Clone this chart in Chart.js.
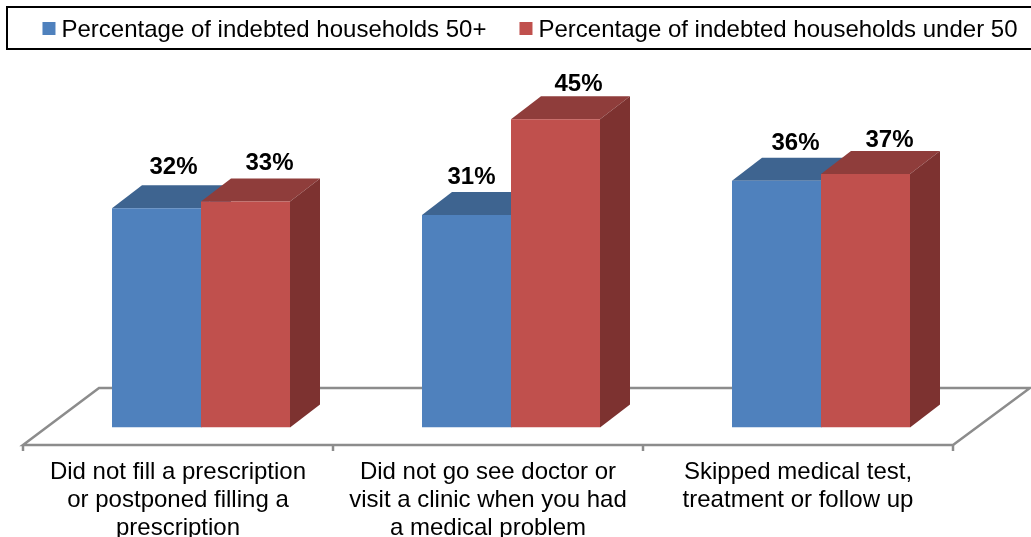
<!DOCTYPE html>
<html lang="en">
<head>
    <meta charset="UTF-8">
    <title>Indebted households</title>
    <script src="https://cdn.jsdelivr.net/npm/chart.js@4"></script>
    <style>
        body { margin: 0; background: #fff; overflow: hidden; }
        #wrap { position: relative; width: 1031px; height: 537px; }
    </style>
</head>
<body>
    <div id="wrap"><canvas id="chart"></canvas></div>

    <script>
        const categories = [
            ['Did not fill a prescription', 'or postponed filling a', 'prescription'],
            ['Did not go see doctor or', 'visit a clinic when you had', 'a medical problem'],
            ['Skipped medical test,', 'treatment or follow up']
        ];
        const over50 = [32, 31, 36];
        const under50 = [33, 45, 37];
        const seriesNames = ['Percentage of indebted households 50+', 'Percentage of indebted households under 50'];

        // pixel shifts of the data labels, they were placed by hand in the original
        const labelShift = [
            [[17, -41], [5, -38], [19, -37]],
            [[24, -38], [23, -35], [24, -34]]
        ];
        const faceColors = ['#4F81BD', '#C0504D'];
        const topColors = ['#3E6490', '#8F3D3B'];
        const sideColors = ['#386088', '#7D3230'];
        const depthX = 30;
        const depthY = 23;

        function face(ctx, color, points) {
            ctx.fillStyle = color;
            ctx.beginPath();
            points.forEach(p => ctx.lineTo(p[0], p[1]));
            ctx.closePath();
            ctx.fill();
        }

        const bars3d = {
            id: 'bars3d',
            afterLayout(chart) {
                // legend text sits higher and further right than the library centres it
                chart.legend.left += 25;
                chart.legend.right += 25;
                chart.legend.top -= 61;
            },
            beforeDatasetsDraw(chart) {
                const ctx = chart.ctx;
                const xs = chart.scales.x;
                const ys = chart.scales.y;
                ctx.save();

                // floor
                const front = ys.bottom + 17.5;
                const back = ys.bottom - 39.5;
                const left = xs.left - 23;
                const right = xs.right - 23;
                ctx.strokeStyle = '#8C8C8C';
                ctx.lineWidth = 2.5;
                ctx.beginPath();
                ctx.moveTo(left, front);
                ctx.lineTo(right, front);
                ctx.lineTo(right + 77, back);
                ctx.lineTo(left + 76, back);
                ctx.closePath();
                ctx.stroke();
                for (let i = 0; i <= categories.length; i++) {
                    const tx = left + (right - left) * i / categories.length;
                    ctx.beginPath();
                    ctx.moveTo(tx, front);
                    ctx.lineTo(tx, front + 6);
                    ctx.stroke();
                }

                // tops and sides behind the front faces
                chart.data.datasets.forEach((ds, d) => {
                    chart.getDatasetMeta(d).data.forEach(bar => {
                        const l = bar.x - bar.width / 2;
                        const r = bar.x + bar.width / 2;
                        face(ctx, topColors[d], [[l, bar.y], [l + depthX, bar.y - depthY], [r + depthX, bar.y - depthY], [r, bar.y]]);
                        face(ctx, sideColors[d], [[r, bar.y], [r + depthX, bar.y - depthY], [r + depthX, bar.base - depthY], [r, bar.base]]);
                    });
                });
                ctx.restore();
            },
            afterDatasetsDraw(chart) {
                const ctx = chart.ctx;
                ctx.save();
                ctx.fillStyle = '#000';
                ctx.font = 'bold 24px "Liberation Sans"';
                ctx.textAlign = 'center';
                ctx.textBaseline = 'middle';
                chart.data.datasets.forEach((ds, d) => {
                    chart.getDatasetMeta(d).data.forEach((bar, i) => {
                        ctx.fillText(ds.data[i] + '%', bar.x + labelShift[d][i][0], bar.y + labelShift[d][i][1]);
                    });
                });
                ctx.restore();
            },
            afterDraw(chart) {
                const ctx = chart.ctx;
                ctx.save();
                // legend frame and the square keys
                ctx.strokeStyle = '#000';
                ctx.lineWidth = 2;
                ctx.strokeRect(7, 7, 1030, 42);
                chart.legend.legendHitBoxes.forEach((box, i) => {
                    ctx.fillStyle = faceColors[i];
                    ctx.fillRect(box.left - 1, 22, 13, 13);
                });
                ctx.restore();
            }
        };

        Chart.defaults.font.family = '"Liberation Sans", Arial, sans-serif';
        Chart.defaults.color = '#000';

        new Chart(document.getElementById('chart'), {
            type: 'bar',
            data: {
                labels: categories,
                datasets: [
                    { label: seriesNames[0], data: over50, backgroundColor: faceColors[0] },
                    { label: seriesNames[1], data: under50, backgroundColor: faceColors[1] }
                ]
            },
            options: {
                responsive: true,
                maintainAspectRatio: false,
                animation: false,
                // the negative left padding gives the legend room to stay on one row
                layout: { padding: { top: 45.5, left: -20, right: 0, bottom: 0 } },
                datasets: { bar: { categoryPercentage: 178 / 310, barPercentage: 1 } },
                plugins: {
                    tooltip: { enabled: false },
                    legend: {
                        position: 'top',
                        maxHeight: 60,
                        labels: {
                            font: { size: 24 },
                            boxWidth: 6,
                            boxHeight: 8,
                            padding: 34
                        }
                    }
                },
                scales: {
                    x: {
                        grid: { display: false },
                        border: { display: false },
                        ticks: {
                            font: { size: 24, lineHeight: 1.17 },
                            color: '#000',
                            labelOffset: -23,
                            padding: 23,
                            maxRotation: 0,
                            autoSkip: false
                        },
                        afterFit(scale) { scale.height = 109.5; }
                    },
                    y: {
                        min: 0,
                        max: 47,
                        grid: { display: false },
                        border: { display: false },
                        ticks: { display: false },
                        afterFit(scale) { scale.width = 66; }
                    },
                    y2: {
                        position: 'right',
                        grid: { display: false },
                        border: { display: false },
                        ticks: { display: false },
                        afterFit(scale) { scale.width = 55; }
                    }
                }
            },
            plugins: [bars3d]
        });
    </script>
</body>
</html>
